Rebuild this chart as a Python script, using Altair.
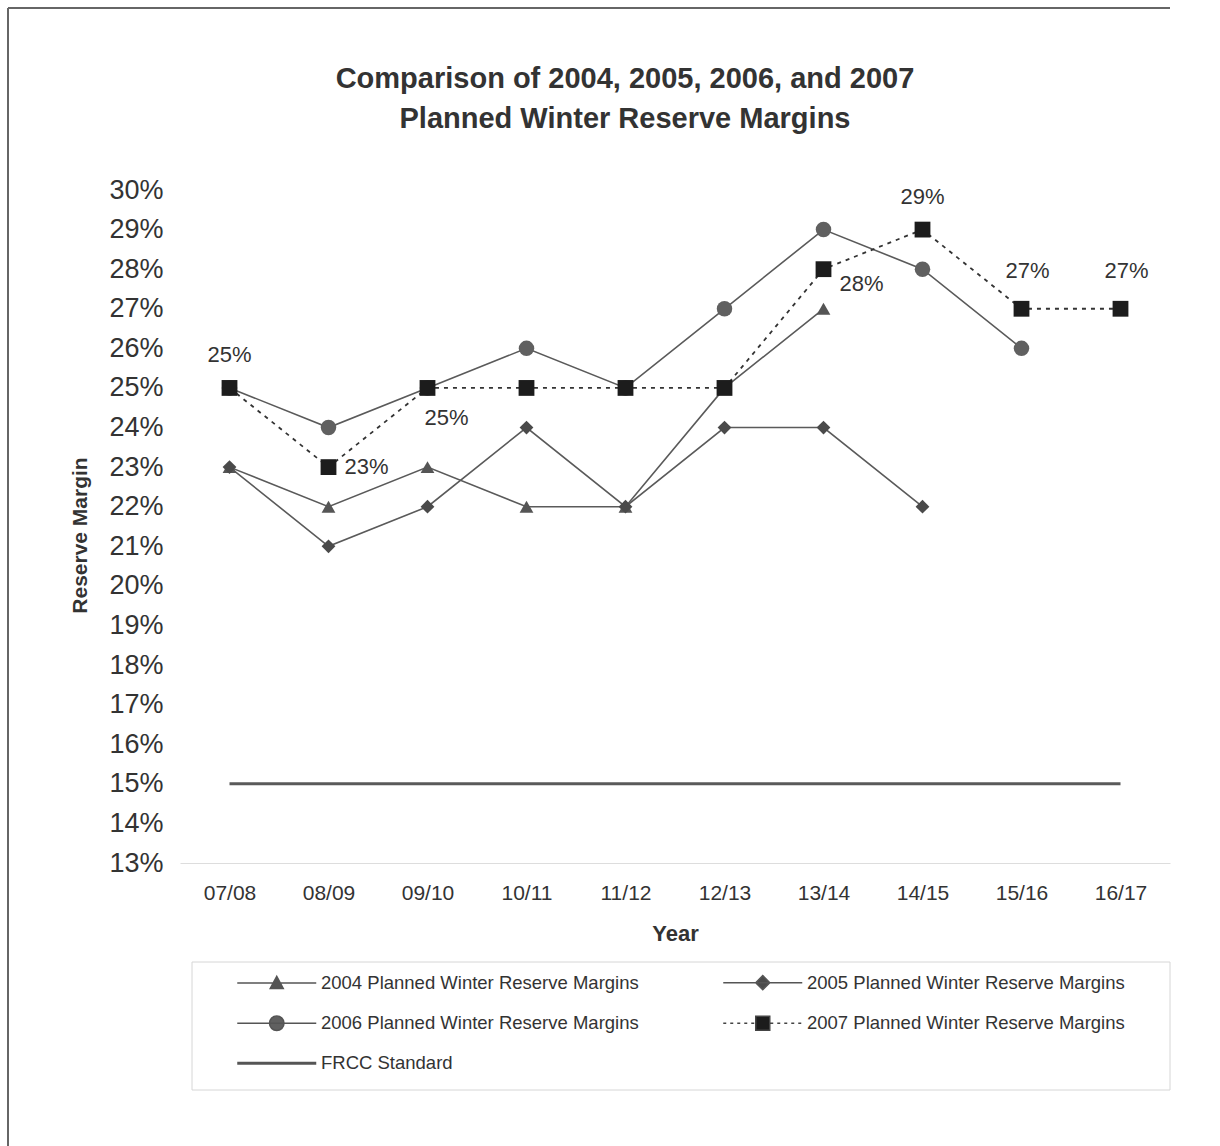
import altair as alt
import pandas as pd

# ---------------- data ----------------
years = ["07/08", "08/09", "09/10", "10/11", "11/12", "12/13", "13/14", "14/15", "15/16", "16/17"]
margin_2004 = [23, 22, 23, 22, 22, 25, 27, None, None, None]
margin_2005 = [23, 21, 22, 24, 22, 24, 24, 22, None, None]
margin_2006 = [25, 24, 25, 26, 25, 27, 29, 28, 26, None]
margin_2007 = [25, 23, 25, 25, 25, 25, 28, 29, 27, 27]
frcc_standard = [15, 15, 15, 15, 15, 15, 15, 15, 15, 15]
series = [
    "2004 Planned Winter Reserve Margins",
    "2005 Planned Winter Reserve Margins",
    "2006 Planned Winter Reserve Margins",
    "2007 Planned Winter Reserve Margins",
    "FRCC Standard",
]
y_ticks = [13, 14, 15, 16, 17, 18, 19, 20, 21, 22, 23, 24, 25, 26, 27, 28, 29, 30]
title_lines = ["Comparison of 2004, 2005, 2006, and 2007", "Planned Winter Reserve Margins"]

rows = []
for name, vals in zip(series, [margin_2004, margin_2005, margin_2006, margin_2007, frcc_standard]):
    for yr, v in zip(years, vals):
        if v is not None:
            rows.append({"year": yr, "series": name, "value": v / 100})
df = pd.DataFrame(rows)
legend_df = pd.DataFrame({"legend": series})
one_row = pd.DataFrame({"k": [0]})

FONT = "Liberation Sans"
TXT = "#333333"

# ---------------- encodings ----------------
x_enc = alt.X(
    "year:N", sort=years,
    scale=alt.Scale(type="point", domain=years, padding=0.5),
    axis=alt.Axis(title="Year", labelAngle=0, labelFont=FONT, labelFontSize=21, labelColor=TXT,
                  labelPadding=19, ticks=False, tickSize=0, domain=True, domainColor="#dddddd",
                  grid=False, titleFont=FONT, titleFontSize=22, titleFontWeight="bold",
                  titleColor=TXT, titlePadding=20),
)
y_enc = alt.Y(
    "value:Q",
    scale=alt.Scale(domain=[0.13, 0.30], nice=False, zero=False),
    axis=alt.Axis(title="Reserve Margin", format=".0%", values=[v / 100 for v in y_ticks],
                  labelFont=FONT, labelFontSize=27, labelColor=TXT, labelPadding=17,
                  ticks=False, tickSize=0, domain=False, grid=False, titleFont=FONT,
                  titleFontSize=21, titleFontWeight="bold", titleColor=TXT, titlePadding=18,
                  titleY=345),
)

base = alt.Chart(df)

def only(names):
    return alt.FieldOneOfPredicate(field="series", oneOf=names)

lines_solid = base.transform_filter(only(series[:3])).mark_line(
    color="#5a5a5a", strokeWidth=1.6).encode(x=x_enc, y=y_enc, detail="series:N")
line_2007 = base.transform_filter(only([series[3]])).mark_line(
    color="#333333", strokeWidth=1.8, strokeDash=[4, 5]).encode(x=x_enc, y=y_enc)
line_frcc = base.transform_filter(only([series[4]])).mark_line(
    color="#5a5a5a", strokeWidth=3).encode(x=x_enc, y=y_enc)

point_styles = [
    (series[0], "triangle-up", 190, "#555555"),
    (series[1], "diamond", 190, "#4a4a4a"),
    (series[2], "circle", 240, "#606060"),
    (series[3], "square", 250, "#1c1c1c"),
]
point_layers = [
    base.transform_filter(only([n])).mark_point(
        shape=shp, size=sz, filled=True, color=col, opacity=1).encode(x=x_enc, y=y_enc)
    for n, shp, sz, col in point_styles
]

# labels on the 2007 series
label_groups = [
    (["07/08", "14/15"], "center", 0, -33),
    (["15/16", "16/17"], "center", 6, -38),
    (["08/09"], "left", 16, 0),
    (["09/10"], "center", 19, 30),
    (["13/14"], "center", 38, 15),
]
label_layers = [
    base.transform_filter(only([series[3]])).transform_filter(
        alt.FieldOneOfPredicate(field="year", oneOf=yrs)).mark_text(
        font=FONT, fontSize=22, color=TXT, align=al, baseline="middle", dx=dx, dy=dy
    ).encode(x=x_enc, y=y_enc, text=alt.Text("value:Q", format=".0%"))
    for yrs, al, dx, dy in label_groups
]

# ---------------- legend (custom symbols) ----------------
U = 7.9  # half length of the legend line, in symbol units

def dashed(a, b, dash=0.6, gap=0.8):
    segs = []
    x = a
    while x < b:
        segs.append(f"M{x:.2f},0H{min(x + dash, b):.2f}")
        x += dash + gap
    return "".join(segs)

line_path = f"M{-U},0H{U}"
legend_paths = [
    line_path + "M0,-1.3L1.3,1.1L-1.3,1.1Z",
    line_path + "M0,-1.4L1.4,0L0,1.4L-1.4,0Z",
    line_path + "M-1.45,0A1.45,1.45,0,1,0,1.45,0A1.45,1.45,0,1,0,-1.45,0Z",
    dashed(-U, -1.5) + dashed(1.5, U) + "M-1.4,-1.4H1.4V1.4H-1.4Z",
    f"M{-U},-0.15H{U}M{-U},0.15H{U}",
]
legend_fills = ["#555555", "#4a4a4a", "#606060", "#1c1c1c", "#555555"]
legend_strokes = ["#555555", "#555555", "#555555", "#444444", "#555555"]

leg = alt.Legend(
    title=None, orient="none", legendX=52, legendY=783, columns=2, direction="horizontal",
    columnPadding=79, rowPadding=20, padding=0, labelFont=FONT, labelFontSize=18.5,
    labelColor=TXT, labelLimit=450, symbolSize=100, symbolStrokeWidth=1.5, symbolOffset=35.5,
    labelOffset=35, symbolOpacity=1,
)
legend_layer = alt.Chart(legend_df).transform_filter("false").mark_point(
    filled=True, size=100, strokeWidth=1.5, opacity=1).encode(
    shape=alt.Shape("legend:N", scale=alt.Scale(domain=series, range=legend_paths), legend=leg),
    fill=alt.Fill("legend:N", scale=alt.Scale(domain=series, range=legend_fills), legend=leg),
    stroke=alt.Stroke("legend:N", scale=alt.Scale(domain=series, range=legend_strokes), legend=leg),
)

legend_box = alt.Chart(one_row).mark_rect(fill="white", stroke="#d6d6d6", strokeWidth=1).encode(
    x=alt.value(12), x2=alt.value(990), y=alt.value(772), y2=alt.value(900))

frame_top = alt.Chart(one_row).mark_rule(color="#666666", strokeWidth=2).encode(
    x=alt.value(-172), x2=alt.value(990), y=alt.value(-182))
frame_left = alt.Chart(one_row).mark_rule(color="#666666", strokeWidth=2).encode(
    x=alt.value(-172), y=alt.value(-182), y2=alt.value(956))

chart = alt.layer(
    frame_top, frame_left, legend_box,
    line_frcc, lines_solid, line_2007,
    *point_layers, *label_layers, legend_layer,
).properties(
    width=990, height=673,
    title=alt.Title(title_lines, font=FONT, fontSize=29, fontWeight="bold", color=TXT,
                    lineHeight=40, anchor="middle", frame="group", dx=-50, offset=-127),
    autosize=alt.AutoSizeParams(type="none"),
    padding={"left": 180, "top": 190, "right": 50, "bottom": 283},
    background="white",
).configure_view(stroke=None)

chart.save("out.html", embed_options={"renderer": "svg", "actions": False})
